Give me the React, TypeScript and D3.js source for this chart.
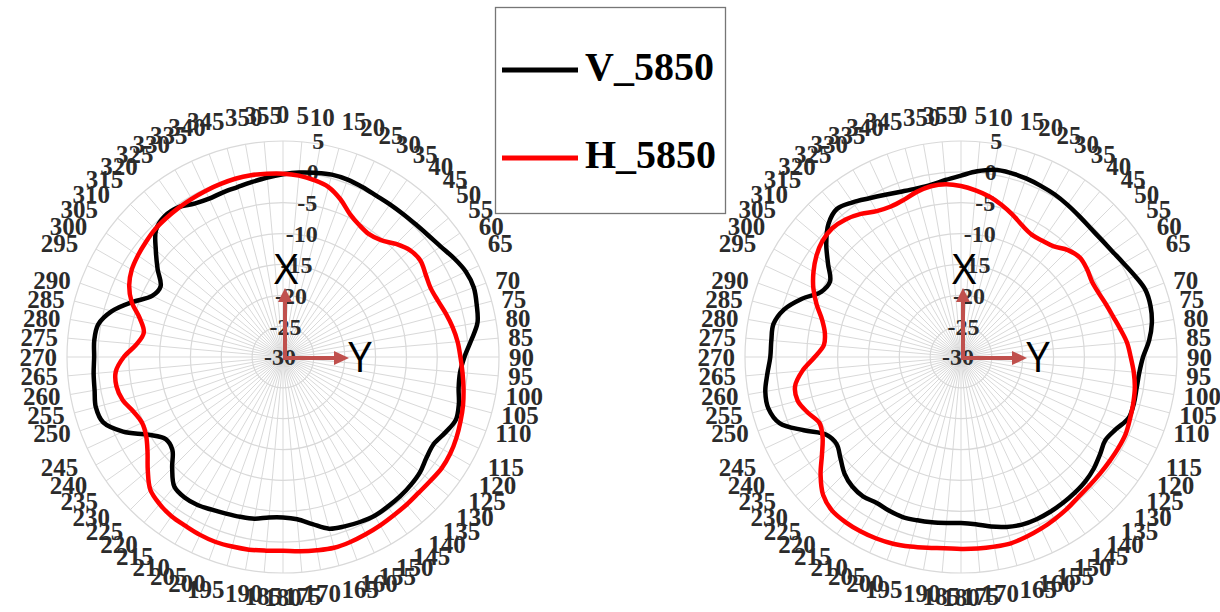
import React, { useEffect, useRef } from 'react';
import * as d3 from 'd3';

// angle categories (deg, clockwise from top)
const angles = [
  0, 5, 10, 15, 20, 25, 30, 35, 40, 45, 50, 55, 60, 65, 70, 75, 80, 85,
  90, 95, 100, 105, 110, 115, 120, 125, 130, 135, 140, 145, 150, 155, 160, 165, 170, 175,
  180, 185, 190, 195, 200, 205, 210, 215, 220, 225, 230, 235, 240, 245, 250, 255, 260, 265,
  270, 275, 280, 285, 290, 295, 300, 305, 310, 315, 320, 325, 330, 335, 340, 345, 350, 355,
];
const radialTicks = [-30, -25, -20, -15, -10, -5, 0, 5];
const seriesNames = ['V_5850', 'H_5850'];

// left plot (dB)
const leftV = [
  -0.4, 0.0, 0.3, 0.6, 0.6, 0.4, 0.2, 0.2, 0.25, 0.4, 0.7, 1.2, 2.0, 2.7, 2.9, 2.5, 2.0, 0.6,
  -0.6, -1.2, -1.1, -0.5, -0.2, -1.0, -1.8, -1.6, -1.0, -0.7, -0.5, -0.4, -0.3, -0.5, -0.8, -1.2, -2.5, -3.6,
  -4.0, -3.9, -3.4, -3.2, -3.0, -2.7, -2.3, -2.2, -2.6, -4.6, -6.6, -6.8, -4.8, -1.4, 1.0, 1.4, 1.0, 0.8,
  0.6, 0.7, 0.4, -1.3, -4.0, -6.6, -7.1, -5.2, -3.1, -0.9, -0.2, -0.4, -1.3, -1.7, -1.6, -1.5, -1.2, -0.8,
];
const leftH = [
  -0.3, -0.5, -0.9, -1.5, -2.8, -4.4, -5.3, -5.7, -5.3, -4.1, -3.1, -2.8, -3.3, -3.6, -3.3, -2.7, -2.1, -1.6,
  -1.25, -0.8, -0.3, 0.2, 0.6, 1.0, 1.3, 1.4, 1.2, 1.1, 1.2, 1.3, 1.5, 1.7, 1.9, 2.0, 1.8, 1.6,
  1.4, 1.5, 1.7, 1.8, 1.9, 1.8, 1.6, 1.5, 1.1, 0.4, -1.4, -3.2, -4.4, -4.8, -4.2, -3.1, -2.6, -2.8,
  -4.2, -6.2, -7.1, -6.0, -3.9, -2.5, -1.7, -1.3, -1.0, -0.7, -0.6, -0.5, -0.4, -0.3, -0.2, -0.1, -0.1, -0.2,
];

// right plot (dB)
const rightV = [
  -0.6, 0.2, 0.8, 0.9, 0.8, 0.6, 0.4, 0.1, -0.2, -0.4, -0.35, -0.1, 0.4, 1.1, 1.8, 1.8, 1.4, 0.6,
  -0.5, -1.0, -1.1, -1.0, -1.1, -2.3, -3.0, -2.5, -1.9, -1.5, -1.3, -1.15, -1.05, -1.0, -1.1, -1.5, -2.1, -2.8,
  -3.1, -3.0, -2.8, -2.6, -2.4, -2.5, -2.7, -2.4, -2.6, -3.3, -4.5, -5.4, -4.8, -1.9, 1.3, 2.3, 2.2, 1.5,
  0.9, 0.85, 0.85, -0.3, -2.5, -5.0, -5.5, -3.7, -1.5, 0.4, 1.3, 0.6, -0.3, -1.0, -1.5, -1.75, -1.7, -1.2,
];
const rightH = [
  -2.3, -2.9, -3.6, -4.5, -5.5, -6.5, -7.1, -7.0, -6.6, -5.5, -4.9, -5.1, -5.5, -5.4, -5.0, -4.5, -3.8, -3.0,
  -2.5, -1.9, -1.4, -1.1, -0.85, -0.55, -0.55, -0.6, -0.6, -0.55, -0.4, 0.0, 0.35, 0.7, 1.0, 1.25, 1.2, 1.15,
  1.1, 1.1, 1.4, 1.8, 2.2, 2.45, 2.6, 2.65, 2.5, 1.6, -0.3, -2.5, -4.1, -4.7, -3.6, -2.6, -2.7, -4.2,
  -6.3, -7.7, -7.6, -6.7, -5.1, -3.6, -2.4, -1.4, -0.7, -0.5, -0.9, -1.7, -2.7, -3.1, -2.9, -2.3, -1.9, -1.9,
];

const serif = '"Liberation Serif", "Times New Roman", serif';

const App: React.FC = () => {
  const svgRef = useRef<SVGSVGElement>(null);

  useEffect(() => {
    if (!svgRef.current) return;
    const svg = d3.select(svgRef.current);
    svg.selectAll('*').remove();

    svg.append('rect').attr('width', 1220).attr('height', 612).attr('fill', '#fff');

    const R = 216;
    const rScale = d3.scaleLinear().domain([-30, 5]).range([0, R]);
    const aScale = d3.scaleLinear().domain([0, 360]).range([0, 2 * Math.PI]);

    const drawPolar = (cx: number, cy: number, vData: number[], hData: number[]) => {
      const g = svg.append('g').attr('transform', `translate(${cx},${cy})`);

      // spokes
      g.selectAll('line.spoke')
        .data(angles)
        .join('line')
        .attr('class', 'spoke')
        .attr('x1', 0).attr('y1', 0)
        .attr('x2', d => R * Math.sin(aScale(d)))
        .attr('y2', d => -R * Math.cos(aScale(d)))
        .attr('stroke', '#d9d9d9')
        .attr('stroke-width', 1);

      // rings
      g.selectAll('circle.ring')
        .data(radialTicks.slice(1))
        .join('circle')
        .attr('class', 'ring')
        .attr('r', d => rScale(d))
        .attr('fill', 'none')
        .attr('stroke', '#d9d9d9')
        .attr('stroke-width', 1.2);

      // radial axis labels
      g.selectAll('text.rlab')
        .data(radialTicks)
        .join('text')
        .attr('class', 'rlab')
        .attr('x', d => -3 + rScale(d) * 0.177)
        .attr('y', d => -rScale(d))
        .attr('dy', '0.35em')
        .attr('text-anchor', 'middle')
        .attr('font-family', serif)
        .attr('font-weight', 'bold')
        .attr('font-size', 24)
        .attr('fill', '#2b2b2b')
        .text(d => String(d));

      // angle labels
      const rx = 226, ry = 224;
      g.selectAll('text.alab')
        .data(angles)
        .join('text')
        .attr('class', 'alab')
        .each(function (d) {
          const t = aScale(d);
          const s = Math.sin(t), c = Math.cos(t);
          let y = -ry * c;
          if (Math.abs(c) >= 0.36) y += c > 0 ? -19 : 16;
          const anchor = Math.abs(s) < 0.2 ? 'middle' : s > 0 ? 'start' : 'end';
          d3.select(this)
            .attr('x', rx * s)
            .attr('y', y)
            .attr('text-anchor', anchor);
        })
        .attr('dy', '0.35em')
        .attr('font-family', serif)
        .attr('font-weight', 'bold')
        .attr('font-size', 25)
        .attr('fill', '#2b2b2b')
        .text(d => String(d));

      // pattern curves
      const line = d3.lineRadial<number>()
        .angle((_, i) => aScale(angles[i]))
        .radius(d => rScale(d))
        .curve(d3.curveCatmullRomClosed);

      g.append('path').datum(vData)
        .attr('d', line)
        .attr('fill', 'none')
        .attr('stroke', '#000')
        .attr('stroke-width', 4.5);

      g.append('path').datum(hData)
        .attr('d', line)
        .attr('fill', 'none')
        .attr('stroke', '#ff0000')
        .attr('stroke-width', 4.5);

      // axes arrows
      const ac = '#c0504d';
      const ax = g.append('g');
      ax.append('line').attr('x1', 2).attr('y1', 3).attr('x2', 2).attr('y2', -56)
        .attr('stroke', ac).attr('stroke-width', 4);
      ax.append('path').attr('d', 'M2,-69 L-5,-55 L9,-55 Z').attr('fill', ac);
      ax.append('line').attr('x1', 0).attr('y1', 1).attr('x2', 52).attr('y2', 1)
        .attr('stroke', ac).attr('stroke-width', 4);
      ax.append('path').attr('d', 'M66,1 L51,-6 L51,8 Z').attr('fill', ac);

      g.append('text')
        .attr('x', 3).attr('y', -88).attr('dy', '0.35em')
        .attr('text-anchor', 'middle')
        .attr('font-family', '"Open Sans", sans-serif')
        .attr('font-size', 42)
        .attr('fill', '#000')
        .text('X');
      g.append('text')
        .attr('x', 77).attr('y', 0).attr('dy', '0.35em')
        .attr('text-anchor', 'middle')
        .attr('font-family', '"Open Sans", sans-serif')
        .attr('font-size', 42)
        .attr('fill', '#000')
        .text('Y');
    };

    drawPolar(283, 357, leftV, leftH);
    drawPolar(961, 357, rightV, rightH);

    // legend
    const lg = svg.append('g');
    lg.append('rect')
      .attr('x', 495.5).attr('y', 7.5).attr('width', 230).attr('height', 206)
      .attr('fill', '#fff').attr('stroke', '#767676').attr('stroke-width', 1.3);
    const colors = ['#000', '#ff0000'];
    seriesNames.forEach((name, i) => {
      const y = 70 + i * 88;
      lg.append('line').attr('x1', 502).attr('x2', 578).attr('y1', y).attr('y2', y)
        .attr('stroke', colors[i]).attr('stroke-width', 5);
      lg.append('text')
        .attr('x', 585).attr('y', y + 10)
        .attr('font-family', serif)
        .attr('font-weight', 'bold')
        .attr('font-size', 40)
        .attr('fill', '#000')
        .text(name);
    });
  }, []);

  return (
    <svg
      ref={svgRef}
      width={1220}
      height={612}
      style={{ position: 'absolute', left: 0, top: 0 }}
    />
  );
};

export default App;
